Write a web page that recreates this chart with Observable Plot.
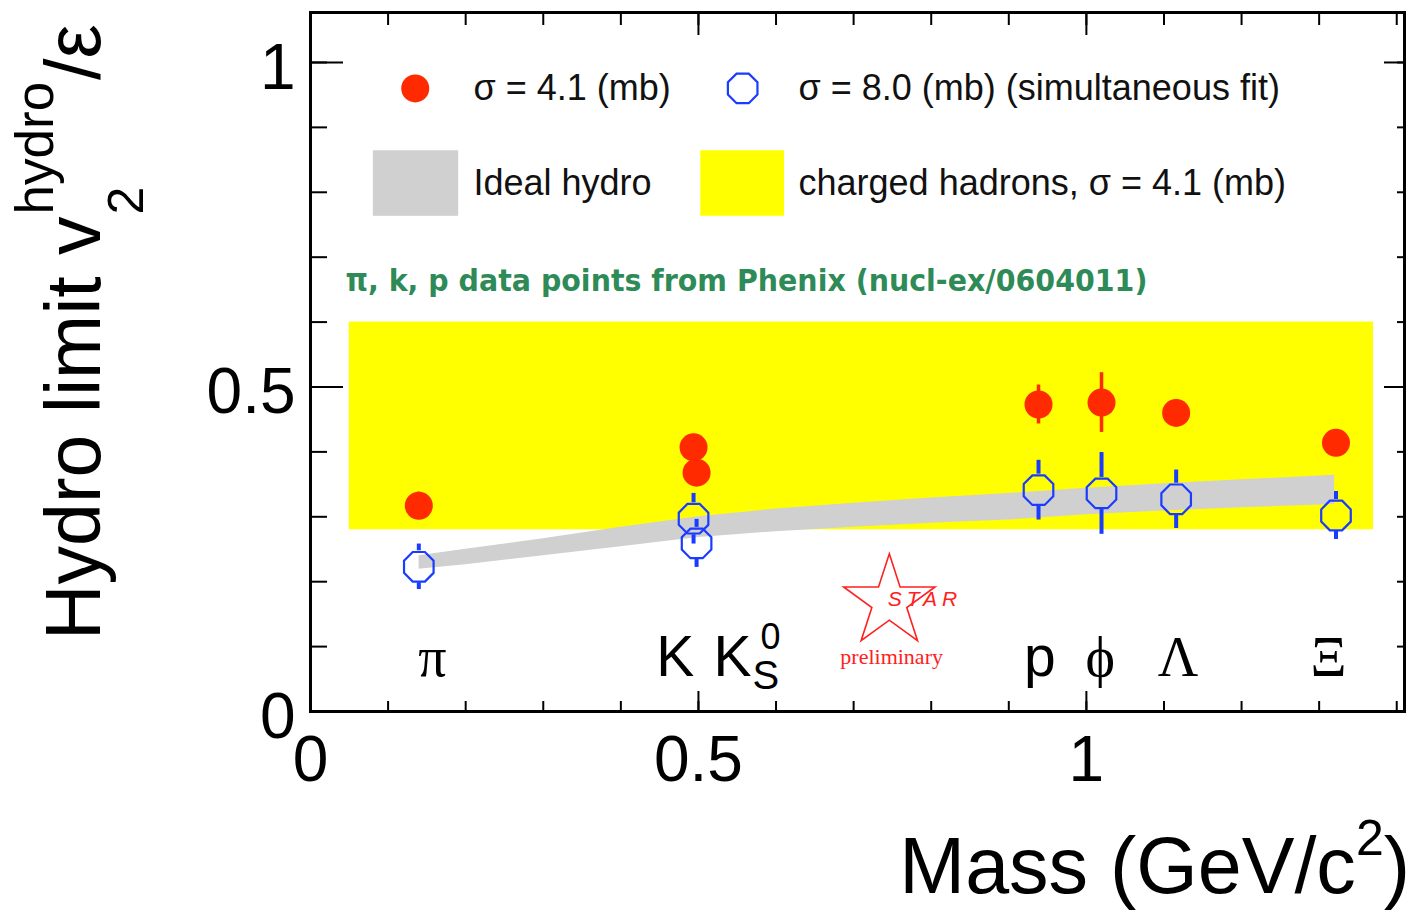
<!DOCTYPE html>
<html>
<head>
<meta charset="utf-8">
<script src="https://cdn.jsdelivr.net/npm/d3@7"></script>
<script src="https://cdn.jsdelivr.net/npm/@observablehq/plot@0.6"></script>
<style>
  body { margin: 0; background: #ffffff; }
  #chart svg { display: block; }
</style>
</head>
<body>
<div id="chart"></div>
<script>
// ---------------- data ----------------
const particles   = ["π", "K", "K", "p", "ϕ", "Λ", "Ξ"];
const masses      = [0.1396, 0.4937, 0.4976, 0.9383, 1.0195, 1.1157, 1.3217];
const sigma41     = [0.317, 0.407, 0.368, 0.473, 0.476, 0.460, 0.414];
const sigma41Err  = [0.021, 0.020, 0.015, 0.030, 0.046, 0.020, 0.020];
const sigma80     = [0.223, 0.297, 0.259, 0.341, 0.336, 0.327, 0.302];
const sigma80Err  = [0.035, 0.039, 0.037, 0.046, 0.063, 0.045, 0.037];

// ideal hydro band (lower / upper edge) vs mass
const hydroMass = [0.14, 0.2, 0.3, 0.4, 0.5, 0.6, 0.7, 0.8, 0.9, 1.0, 1.1, 1.2, 1.32];
const hydroLow  = [0.219, 0.226, 0.240, 0.254, 0.268, 0.277, 0.284, 0.290, 0.295, 0.303, 0.309, 0.314, 0.319];
const hydroHigh = [0.240, 0.250, 0.266, 0.284, 0.300, 0.312, 0.321, 0.329, 0.336, 0.344, 0.351, 0.357, 0.364];

// charged hadrons band
const chargedMass = [0.05, 1.37];
const chargedV2   = [0.28, 0.60];

// particle label positions along mass axis
const labelMass = [0.157, 0.470, 0.544, 0.940, 1.018, 1.118, 1.312];

// ticks
const xMajorTicks = [0, 0.5, 1];
const xMinorTicks = [0, 0.1, 0.2, 0.3, 0.4, 0.5, 0.6, 0.7, 0.8, 0.9, 1.0, 1.1, 1.2, 1.3, 1.4];
const yMajorTicks = [0, 0.5, 1];
const yMinorTicks = [0, 0.1, 0.2, 0.3, 0.4, 0.5, 0.6, 0.7, 0.8, 0.9, 1.0];

const legendLabels = ["σ = 4.1 (mb)", "σ = 8.0 (mb) (simultaneous fit)", "Ideal hydro", "charged hadrons, σ = 4.1 (mb)"];
const noteText = "π, k, p data points from Phenix (nucl-ex/0604011)";

// ---------------- styles / layout ----------------
const RED = "#ff2a00", BLUE = "#1a3cff", GRAY = "#d0d0d0", YELLOW = "#ffff00", GREEN = "#2e8b57";
const SANS = "Liberation Sans, Arial, Helvetica, sans-serif";
const SERIF = "Liberation Serif, Times New Roman, serif";
const MR = 16; // blue marker radius (px)

const pts = masses.map((m, i) => ({
  name: particles[i], m, lab: labelMass[i],
  a: sigma41[i], ae: sigma41Err[i], b: sigma80[i], be: sigma80Err[i]
}));
const hydro = hydroMass.map((m, i) => ({m, lo: hydroLow[i], hi: hydroHigh[i]}));
const band = [{x1: chargedMass[0], x2: chargedMass[1], y1: chargedV2[0], y2: chargedV2[1]}];

const octagon = {
  draw(ctx, size) {
    const r = Math.sqrt(size / Math.PI);
    for (let k = 0; k < 8; k++) {
      const a = Math.PI / 8 + k * Math.PI / 4;
      const px = r * Math.cos(a), py = r * Math.sin(a);
      if (k === 0) ctx.moveTo(px, py); else ctx.lineTo(px, py);
    }
    ctx.closePath();
  }
};

// legend layout (data units inside the frame)
const L = {r1: 0.960, r2: 0.814, s1: 0.135, t1: 0.210, s2: 0.557, t2: 0.629,
           g1: 0.081, g2: 0.191, yb1: 0.763, yb2: 0.864, y1: 0.503, y2: 0.611};

const chart = Plot.plot({
  width: 1418, height: 910,
  marginLeft: 310, marginRight: 14, marginTop: 12, marginBottom: 199,
  x: {domain: [0, 1.41], label: null},
  y: {domain: [0, 1.077], label: null},
  style: {fontFamily: SANS, background: "#ffffff", color: "black", overflow: "visible"},
  marks: [
    // charged hadron band
    Plot.rect(band, {x1: "x1", x2: "x2", y1: "y1", y2: "y2", fill: YELLOW}),
    // ideal hydro band
    Plot.areaY(hydro, {x: "m", y1: "lo", y2: "hi", fill: GRAY}),
    // red error bars (through markers)
    Plot.ruleX(pts, {x: "m", y1: d => d.a + d.ae, y2: d => d.a - d.ae, stroke: RED, strokeWidth: 3.5}),
    Plot.dot(pts, {x: "m", y: "a", r: 14, fill: RED}),
    // blue error bars (outside open marker)
    Plot.ruleX(pts, {x: "m", y1: d => d.b + d.be, y2: "b", insetBottom: MR, stroke: BLUE, strokeWidth: 4}),
    Plot.ruleX(pts, {x: "m", y1: "b", y2: d => d.b - d.be, insetTop: MR, stroke: BLUE, strokeWidth: 4}),
    Plot.dot(pts, {x: "m", y: "b", r: MR, symbol: octagon, stroke: BLUE, strokeWidth: 2.2, fill: "none"}),
    // particle labels
    Plot.text(pts.filter(d => d.name === "K" || d.name === "p"), {x: "lab", y: 0.083, text: "name", fontSize: 57, fontFamily: SANS, fill: "black"}),
    Plot.text(pts.filter(d => !(d.name === "K" || d.name === "p")), {x: "lab", y: 0.083, text: "name", fontSize: 56, fontFamily: SERIF, fill: "black"}),
    Plot.text(pts.slice(2, 3), {x: "lab", y: 0.083, text: () => "0", dx: 28, dy: -20, fontSize: 36, fontFamily: SANS, textAnchor: "start"}),
    Plot.text(pts.slice(2, 3), {x: "lab", y: 0.083, text: () => "S", dx: 20, dy: 19, fontSize: 40, fontFamily: SANS, textAnchor: "start"}),
    // legend
    Plot.dot([legendLabels[0]], {x: L.s1, y: L.r1, r: 14, fill: RED}),
    Plot.text([legendLabels[0]], {x: L.t1, y: L.r1, text: d => d, textAnchor: "start", fontSize: 36, fill: "#111"}),
    Plot.dot([legendLabels[1]], {x: L.s2, y: L.r1, r: 16, symbol: octagon, stroke: BLUE, strokeWidth: 2.2, fill: "none"}),
    Plot.text([legendLabels[1]], {x: L.t2, y: L.r1, text: d => d, textAnchor: "start", fontSize: 36, fill: "#111"}),
    Plot.rect([legendLabels[2]], {x1: L.g1, x2: L.g2, y1: L.yb1, y2: L.yb2, fill: GRAY}),
    Plot.text([legendLabels[2]], {x: L.t1, y: L.r2, text: d => d, textAnchor: "start", fontSize: 36, fill: "#111"}),
    Plot.rect([legendLabels[3]], {x1: L.y1, x2: L.y2, y1: L.yb1, y2: L.yb2, fill: YELLOW}),
    Plot.text([legendLabels[3]], {x: L.t2, y: L.r2, text: d => d, textAnchor: "start", fontSize: 36, fill: "#111"}),
    // note
    Plot.text([noteText], {x: 0.045, y: 0.6625, text: d => d, textAnchor: "start", fontSize: 31, fontWeight: "bold", fontFamily: "DejaVu Sans, sans-serif", fill: GREEN}),
    // STAR preliminary logo
    Plot.dot(["STAR"], {x: 0.746, y: 0.169, r: 28.7, symbol: "star", stroke: "#ff2020", strokeWidth: 1.6, fill: "none"}),
    Plot.text(["STAR"], {x: 0.792, y: 0.1726, text: d => d, fontSize: 21, fontStyle: "italic", fontFamily: SANS, fill: "#ff2020"}),
    Plot.text(["preliminary"], {x: 0.749, y: 0.0847, text: d => d, fontSize: 22, fontFamily: SERIF, fill: "#ff2020"}),
    // ticks (inward)
    Plot.axisX({anchor: "bottom", ticks: xMinorTicks, tickSize: -10, tickFormat: () => "", strokeWidth: 2, label: null}),
    Plot.axisX({anchor: "bottom", ticks: xMajorTicks, tickSize: -20, tickFormat: () => "", strokeWidth: 2, label: null}),
    Plot.axisX({anchor: "top", ticks: xMinorTicks, tickSize: -12, tickFormat: () => "", strokeWidth: 2, label: null}),
    Plot.axisX({anchor: "top", ticks: xMajorTicks, tickSize: -22, tickFormat: () => "", strokeWidth: 2, label: null}),
    Plot.axisY({anchor: "left", ticks: yMinorTicks, tickSize: -17, tickFormat: () => "", strokeWidth: 2, label: null}),
    Plot.axisY({anchor: "left", ticks: yMajorTicks, tickSize: -33, tickFormat: () => "", strokeWidth: 2, label: null}),
    Plot.axisY({anchor: "right", ticks: yMinorTicks, tickSize: -8, tickFormat: () => "", strokeWidth: 2, label: null}),
    Plot.axisY({anchor: "right", ticks: yMajorTicks, tickSize: -21, tickFormat: () => "", strokeWidth: 2, label: null}),
    // tick labels
    Plot.axisX({anchor: "bottom", ticks: xMajorTicks, tickSize: 0, tickPadding: 24, tickFormat: d => String(d), fontSize: 64, label: null}),
    Plot.axisY({anchor: "left", ticks: yMajorTicks, tickSize: 0, tickPadding: 15, dy: 6, tickFormat: d => String(d), fontSize: 64, label: null}),
    Plot.frame({stroke: "black", strokeWidth: 3})
  ]
});
document.getElementById("chart").appendChild(chart);

// ---------------- post-processing: titles & text tweaks ----------------
const svg = d3.select(chart);
svg.selectAll("text").filter(function () { return this.textContent === noteText; })
  .attr("textLength", 802).attr("lengthAdjust", "spacingAndGlyphs");
svg.selectAll("text").filter(function () { return this.textContent === "STAR"; })
  .attr("letter-spacing", "5px");

// y title (rotated): Hydro limit v_2^hydro / ε
const yTitle = svg.append("g").attr("transform", "translate(100,640) rotate(-90)")
  .attr("font-family", SANS).attr("fill", "black").attr("text-anchor", "start");
const main = yTitle.append("text").attr("font-size", 77).text("Hydro limit v");
const L0 = main.node().getComputedTextLength();
yTitle.append("text").attr("x", L0 + 2).attr("y", 43).attr("font-size", 50).text("2");
const sup = yTitle.append("text").attr("x", L0 + 2).attr("y", -47).attr("font-size", 53).text("hydro");
const L1 = sup.node().getComputedTextLength();
yTitle.append("text").attr("x", L0 + 2 + L1 + 2).attr("y", 0).attr("font-size", 77).text("/ε");

// x title
const xt = svg.append("text").attr("x", 1410).attr("y", 893).attr("text-anchor", "end")
  .attr("font-family", SANS).attr("font-size", 79).attr("fill", "black");
xt.append("tspan").text("Mass (GeV/c");
xt.append("tspan").attr("dy", -38).attr("font-size", 50).text("2");
xt.append("tspan").attr("dy", 38).text(")");
</script>
</body>
</html>
